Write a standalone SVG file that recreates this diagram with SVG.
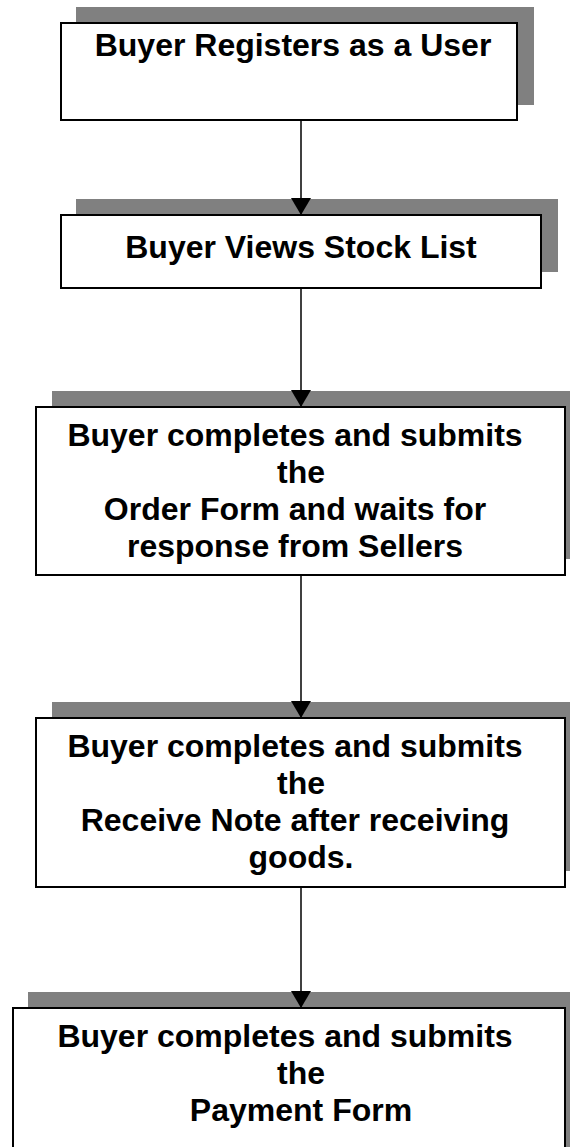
<svg xmlns="http://www.w3.org/2000/svg" width="570" height="1147" viewBox="0 0 570 1147">
  <style>
    .shadow { fill: #808080; stroke: none; }
    .box { fill: #ffffff; stroke: #000000; stroke-width: 2; }
    .label { font-family: "Liberation Sans", Arial, sans-serif; font-weight: bold; font-size: 32px; fill: #000000; text-anchor: middle; }
    .flow { stroke: #000000; stroke-width: 1.5; fill: none; marker-end: url(#arrow); }
  </style>
  <defs>
    <!-- arrowhead drawn along +x; orient="auto" turns it down the line -->
    <marker id="arrow" viewBox="0 0 17 20" refX="17" refY="10" markerWidth="17" markerHeight="20" markerUnits="userSpaceOnUse" orient="auto">
      <path d="M0,0 L17,10 L0,20 Z" fill="#000000"/>
    </marker>
  </defs>
  <rect width="570" height="1147" fill="#ffffff"/>

  <g id="node-register">
    <rect class="shadow" x="76" y="7" width="458" height="98"/>
    <rect class="box" x="61" y="23" width="456" height="97"/>
    <text class="label" x="293" y="56">Buyer Registers as a User</text>
  </g>

  <g id="node-stock-list">
    <rect class="shadow" x="76" y="199" width="482" height="73"/>
    <rect class="box" x="61" y="215" width="480" height="73"/>
    <text class="label" x="301" y="258">Buyer Views Stock List</text>
  </g>

  <g id="node-order-form">
    <rect class="shadow" x="52" y="391" width="530" height="168"/>
    <rect class="box" x="36" y="407" width="529" height="168"/>
    <text class="label" x="295" y="446">Buyer completes and submits</text>
    <text class="label" x="301" y="483">the</text>
    <text class="label" x="295" y="520">Order Form and waits for</text>
    <text class="label" x="295" y="557">response from Sellers</text>
  </g>

  <g id="node-receive-note">
    <rect class="shadow" x="52" y="702" width="530" height="169"/>
    <rect class="box" x="36" y="718" width="529" height="169"/>
    <text class="label" x="295" y="757">Buyer completes and submits</text>
    <text class="label" x="301" y="794">the</text>
    <text class="label" x="295" y="831">Receive Note after receiving</text>
    <text class="label" x="301" y="868">goods.</text>
  </g>

  <g id="node-payment-form">
    <rect class="shadow" x="28" y="992" width="550" height="170"/>
    <rect class="box" x="13" y="1008" width="552" height="150"/>
    <text class="label" x="285" y="1047">Buyer completes and submits</text>
    <text class="label" x="301" y="1084">the</text>
    <text class="label" x="301" y="1121">Payment Form</text>
  </g>

  <g id="connectors">
    <line class="flow" x1="301" y1="120" x2="301" y2="215"/>
    <line class="flow" x1="301" y1="288" x2="301" y2="407"/>
    <line class="flow" x1="301" y1="575" x2="301" y2="718"/>
    <line class="flow" x1="301" y1="887" x2="301" y2="1008"/>
  </g>
</svg>
